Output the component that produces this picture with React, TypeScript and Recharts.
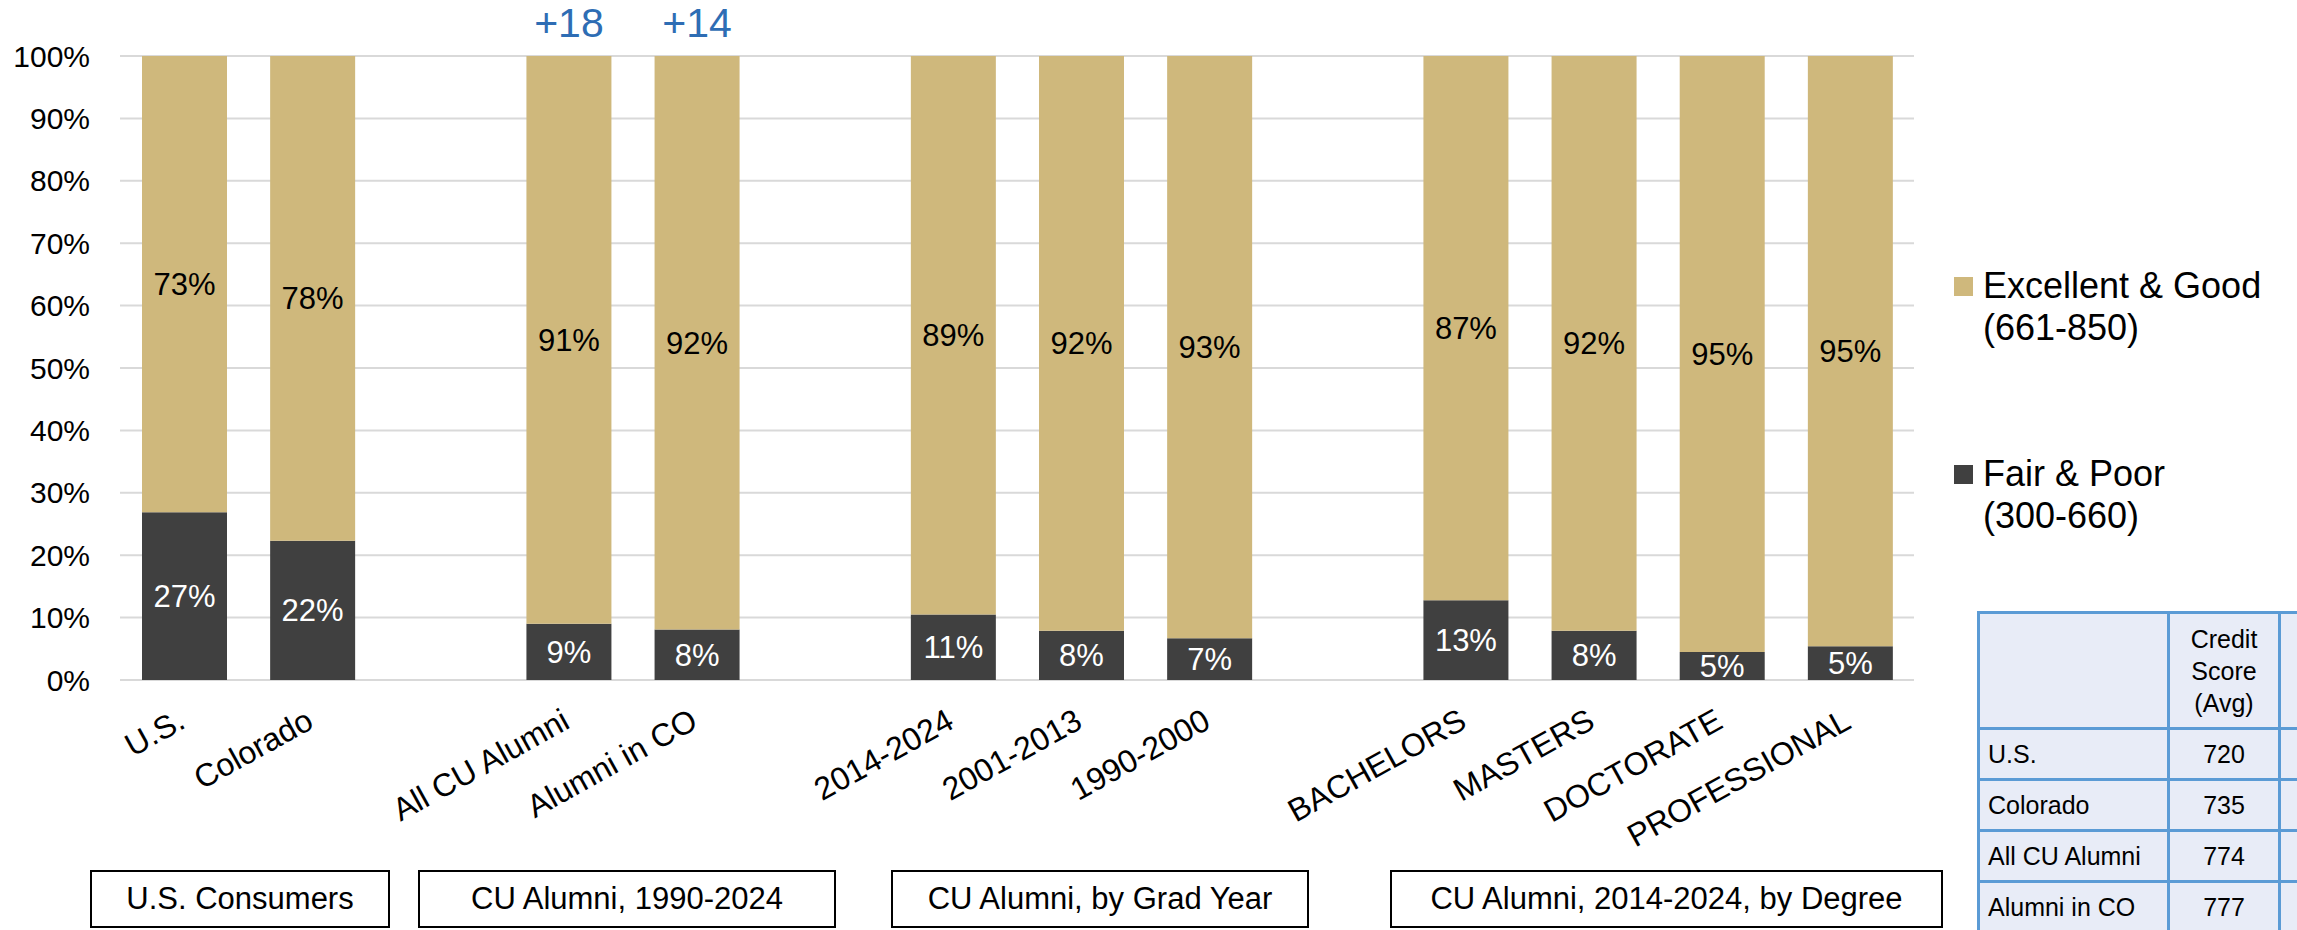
import { BarChart, Bar, XAxis, YAxis, CartesianGrid, LabelList, Legend } from 'recharts';

// Credit score distribution, Excel-style stacked 100% columns.
// Empty categories ('') are spacers between the four groups.
const categories = [
  'U.S.', 'Colorado', '',
  'All CU Alumni', 'Alumni in CO', '',
  '2014-2024', '2001-2013', '1990-2000', '',
  'BACHELORS', 'MASTERS', 'DOCTORATE', 'PROFESSIONAL',
];
const fairPoor = [26.9, 22.3, null, 9.0, 8.1, null, 10.5, 7.9, 6.7, null, 12.8, 7.9, 4.5, 5.4];
const excellentGood = [73.1, 77.7, null, 91.0, 91.9, null, 89.5, 92.1, 93.3, null, 87.2, 92.1, 95.5, 94.6];
const fairPoorLabels = ['27%', '22%', null, '9%', '8%', null, '11%', '8%', '7%', null, '13%', '8%', '5%', '5%'];
const excellentGoodLabels = ['73%', '78%', null, '91%', '92%', null, '89%', '92%', '93%', null, '87%', '92%', '95%', '95%'];
const deltas = [null, null, null, '+18', '+14', null, null, null, null, null, null, null, null, null];
const yTicks = [0, 10, 20, 30, 40, 50, 60, 70, 80, 90, 100];

const groupLabels = ['U.S. Consumers', 'CU Alumni, 1990-2024', 'CU Alumni, by Grad Year', 'CU Alumni, 2014-2024, by Degree'];
const tableRows = ['U.S.', 'Colorado', 'All CU Alumni', 'Alumni in CO'];
const tableScores = [720, 735, 774, 777];

const GOOD_NAME = 'Excellent & Good|(661-850)';
const FAIR_NAME = 'Fair & Poor|(300-660)';
const legendOrder = [GOOD_NAME, FAIR_NAME];

const GOLD = '#CFB87C';
const DARK = '#404040';
const BLUE = '#2E6DB4';
const FONT = '"Liberation Sans", Arial, sans-serif';

// box positions (px) under the axis, one per group
const GROUP_BOXES = [
  { left: 90, width: 300 },
  { left: 418, width: 418 },
  { left: 891, width: 418 },
  { left: 1390, width: 553 },
];

const rows = categories.map((name, i) => ({
  name,
  fair: fairPoor[i],
  good: excellentGood[i],
  fairLabel: fairPoorLabels[i],
  goodLabel: excellentGoodLabels[i],
  delta: deltas[i],
}));

function CategoryTick(props: any) {
  const { x, y, payload } = props;
  if (!payload || !payload.value) return null;
  return (
    <text
      transform={`translate(${x + 3},${y + 47}) rotate(-29)`}
      textAnchor="end"
      fontSize={32}
      fontFamily={FONT}
      fill="#000"
    >
      {payload.value}
    </text>
  );
}

function DeltaLabel(props: any) {
  const { value, viewBox } = props;
  if (!value || !viewBox) return null;
  return (
    <text
      x={viewBox.x + viewBox.width / 2}
      y={viewBox.y - 19}
      textAnchor="middle"
      fontSize={41}
      fontFamily={FONT}
      fill={BLUE}
    >
      {value}
    </text>
  );
}

function LegendContent(props: any) {
  const items = [...(props.payload || [])].sort(
    (a: any, b: any) => legendOrder.indexOf(a.value) - legendOrder.indexOf(b.value)
  );
  return (
    <div style={{ position: 'relative', width: 340, height: 300, fontFamily: FONT, fontSize: 36, lineHeight: '42px', color: '#000' }}>
      {items.map((it: any, i: number) => {
        const [first, second] = String(it.value).split('|');
        return (
          <div key={it.value} style={{ position: 'absolute', left: 0, top: i * 188 }}>
            <div style={{ position: 'absolute', left: 0, top: 12, width: 19, height: 19, background: it.color }} />
            <div style={{ position: 'absolute', left: 29, top: 0, whiteSpace: 'nowrap' }}>
              {first}
              <br />
              {second}
            </div>
          </div>
        );
      })}
    </div>
  );
}

const cellBorder = '3px solid #5B9BD5';

export default function App() {
  return (
    <div style={{ position: 'relative', width: 2297, height: 930, overflow: 'hidden', background: '#fff', fontFamily: FONT }}>
      <style>{'body{margin:0}'}</style>
      <BarChart
        width={2297}
        height={930}
        data={rows}
        margin={{ top: 56, right: 383, bottom: 220, left: 0 }}
        barSize={85}
        style={{ fontFamily: FONT }}
      >
        <CartesianGrid vertical={false} stroke="#D9D9D9" strokeWidth={2} />
        <XAxis
          dataKey="name"
          interval={0}
          axisLine={false}
          tickLine={false}
          tickSize={0}
          tickMargin={0}
          height={30}
          tick={<CategoryTick />}
        />
        <YAxis
          width={120}
          domain={[0, 100]}
          ticks={yTicks}
          axisLine={false}
          tickLine={false}
          tickSize={0}
          tickMargin={30}
          tickFormatter={(v: number) => `${v}%`}
          tick={{ fontSize: 30, fill: '#000', fontFamily: FONT }}
        />
        <Legend
          layout="vertical"
          align="center"
          verticalAlign="middle"
          wrapperStyle={{ left: 1954, top: 265, width: 340 }}
          content={<LegendContent />}
        />
        <Bar dataKey="fair" name={FAIR_NAME} stackId="s" fill={DARK} isAnimationActive={false}>
          <LabelList dataKey="fairLabel" position="center" fill="#fff" fontSize={31} fontFamily={FONT} />
        </Bar>
        <Bar dataKey="good" name={GOOD_NAME} stackId="s" fill={GOLD} isAnimationActive={false}>
          <LabelList dataKey="goodLabel" position="center" fill="#000" fontSize={31} fontFamily={FONT} />
          <LabelList dataKey="delta" content={<DeltaLabel />} />
        </Bar>
      </BarChart>

      {groupLabels.map((g, i) => (
        <div
          key={g}
          style={{
            position: 'absolute',
            left: GROUP_BOXES[i].left,
            top: 870,
            width: GROUP_BOXES[i].width,
            height: 58,
            boxSizing: 'border-box',
            border: '2px solid #000',
            display: 'flex',
            alignItems: 'center',
            justifyContent: 'center',
            fontSize: 31,
            color: '#000',
            background: '#fff',
          }}
        >
          {g}
        </div>
      ))}

      <table
        style={{
          position: 'absolute',
          left: 1977,
          top: 611,
          borderCollapse: 'collapse',
          tableLayout: 'fixed',
          width: 420,
          fontSize: 25,
          color: '#000',
          background: '#E8ECF7',
        }}
      >
        <colgroup>
          <col style={{ width: 190 }} />
          <col style={{ width: 111 }} />
          <col style={{ width: 119 }} />
        </colgroup>
        <tbody>
          <tr style={{ height: 116 }}>
            <td style={{ border: cellBorder }} />
            <td style={{ border: cellBorder, textAlign: 'center', lineHeight: '32px' }}>
              Credit
              <br />
              Score
              <br />
              (Avg)
            </td>
            <td style={{ border: cellBorder }} />
          </tr>
          {tableRows.map((r, i) => (
            <tr key={r} style={{ height: 51 }}>
              <td style={{ border: cellBorder, paddingLeft: 8, whiteSpace: 'nowrap' }}>{r}</td>
              <td style={{ border: cellBorder, textAlign: 'center' }}>{tableScores[i]}</td>
              <td style={{ border: cellBorder }} />
            </tr>
          ))}
        </tbody>
      </table>
    </div>
  );
}
